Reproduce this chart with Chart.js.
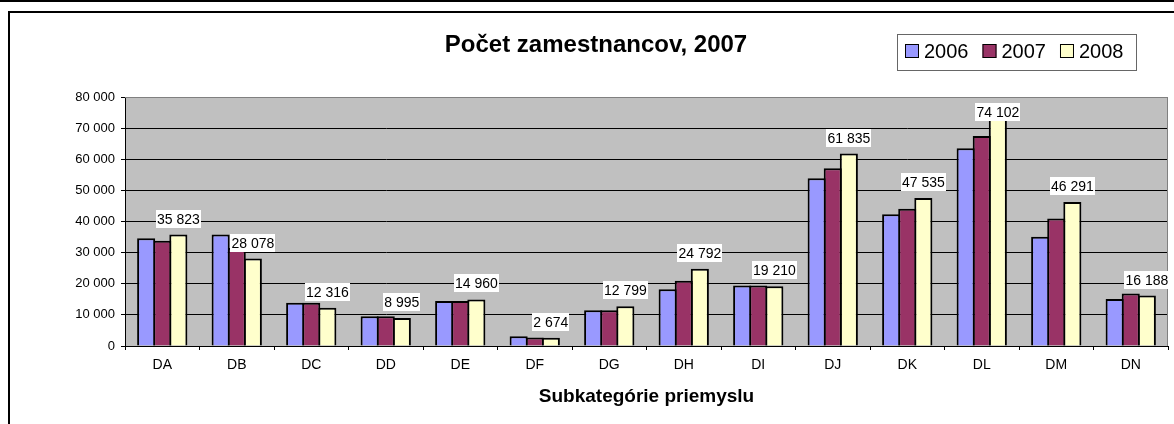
<!DOCTYPE html>
<html>
<head>
<meta charset="utf-8">
<title>Počet zamestnancov, 2007</title>
<script src="https://cdn.jsdelivr.net/npm/chart.js@4.4.1/dist/chart.umd.min.js"></script>
<style>
  html, body { margin: 0; padding: 0; background: #fff; }
  #wrap { position: relative; width: 1174px; height: 424px; overflow: hidden; }
  #topLine { position: absolute; left: 0; top: 0; width: 1174px; height: 2px; background: #000; }
  #frame { position: absolute; left: 8px; top: 11px; width: 1200px; height: 500px; border-left: 2px solid #000; border-top: 2px solid #000; }
  #chartBox { position: absolute; left: 0; top: 0; width: 1174px; height: 424px; }
</style>
</head>
<body>
<div id="wrap">
  <div id="topLine"></div>
  <div id="frame"></div>
  <div id="chartBox"><canvas id="myChart"></canvas></div>
</div>
<script>
// data (2008 values are the printed labels)
const categories = ['DA', 'DB', 'DC', 'DD', 'DE', 'DF', 'DG', 'DH', 'DI', 'DJ', 'DK', 'DL', 'DM', 'DN'];
const years = ['2006', '2007', '2008'];
const values2006 = [34600, 35800, 13900, 9550, 14450, 3100, 11450, 18200, 19400, 53900, 42300, 63500, 35100, 15100];
const values2007 = [33850, 31500, 13900, 9550, 14450, 2750, 11450, 21000, 19400, 57100, 44100, 67500, 41000, 16900];
const values2008 = [35823, 28078, 12316, 8995, 14960, 2674, 12799, 24792, 19210, 61835, 47535, 74102, 46291, 16188];
const yTicks = [0, 10000, 20000, 30000, 40000, 50000, 60000, 70000, 80000];

const colors = ['#9999FF', '#993366', '#FFFFCC'];
const FONT = '"Liberation Sans", Arial, sans-serif';

const fmt = v => String(v).replace(/\B(?=(\d{3})+(?!\d))/g, ' ');

const Chart1 = document.getElementById('myChart');

// grey plot area, value labels, title and framed legend
const decor = {
  id: 'decor',
  beforeDraw(chart) {
    const {ctx, chartArea: a} = chart;
    ctx.save();
    ctx.fillStyle = '#C0C0C0';
    ctx.fillRect(a.left, a.top, a.right - a.left, a.bottom - a.top);
    ctx.restore();
  },
  afterDatasetsDraw(chart) {
    const {ctx, chartArea: a} = chart;
    ctx.save();
    // plot border right side
    ctx.strokeStyle = '#808080';
    ctx.lineWidth = 1;
    ctx.beginPath();
    ctx.moveTo(a.left, a.top + 0.5);
    ctx.lineTo(a.right - 0.5, a.top + 0.5);
    ctx.lineTo(a.right - 0.5, a.bottom);
    ctx.stroke();

    // labels only for the last series
    const meta = chart.getDatasetMeta(2);
    ctx.font = '14px ' + FONT;
    ctx.textAlign = 'center';
    ctx.textBaseline = 'middle';
    meta.data.forEach((bar, i) => {
      const txt = fmt(chart.data.datasets[2].data[i]);
      const w = ctx.measureText(txt).width + 2;
      const h = 18;
      let top = bar.y - 7 - h;
      if (top < a.top + 6) top = a.top + 6;
      ctx.fillStyle = '#fff';
      ctx.fillRect(Math.round(bar.x - w / 2), Math.round(top), Math.round(w), h);
      ctx.fillStyle = '#000';
      ctx.fillText(txt, bar.x, Math.round(top) + h / 2 + 1);
    });
    ctx.restore();
  },
  afterDraw(chart) {
    const ctx = chart.ctx;
    ctx.save();
    ctx.fillStyle = '#000';
    ctx.font = 'bold 24px ' + FONT;
    ctx.textAlign = 'center';
    ctx.textBaseline = 'alphabetic';
    ctx.fillText('Počet zamestnancov, 2007', 596, 52);

    // legend
    ctx.fillStyle = '#fff';
    ctx.fillRect(897, 34, 239, 36);
    ctx.strokeStyle = '#666';
    ctx.lineWidth = 1;
    ctx.strokeRect(897.5, 34.5, 239, 36);
    ctx.font = '20px ' + FONT;
    ctx.textAlign = 'left';
    let x = 905;
    chart.data.datasets.forEach(ds => {
      ctx.fillStyle = ds.backgroundColor;
      ctx.fillRect(x, 44, 14, 14);
      ctx.strokeStyle = '#000';
      ctx.strokeRect(x + 0.5, 44.5, 13, 13);
      ctx.fillStyle = '#000';
      ctx.fillText(ds.label, x + 19, 58);
      x += 19 + ctx.measureText(ds.label).width + 14;
    });
    ctx.restore();
  }
};

const data = {
  labels: categories,
  datasets: [
    { label: years[0], data: values2006, backgroundColor: colors[0] },
    { label: years[1], data: values2007, backgroundColor: colors[1] },
    { label: years[2], data: values2008, backgroundColor: colors[2] }
  ]
};

const config = {
  type: 'bar',
  data,
  options: {
    responsive: true,
    maintainAspectRatio: false,
    animation: false,
    devicePixelRatio: 1,
    layout: { padding: { top: 97, right: 6, bottom: 0, left: 0 } },
    datasets: {
      bar: {
        borderColor: '#000',
        borderWidth: 2,
        categoryPercentage: 0.648,
        barPercentage: 1.124
      }
    },
    plugins: {
      legend: { display: false },
      title: { display: false },
      tooltip: { enabled: false }
    },
    scales: {
      x: {
        offset: true,
        grid: { drawOnChartArea: false, drawTicks: true, tickLength: 4, color: '#000' },
        border: { color: '#000', width: 1 },
        ticks: { color: '#000', padding: 7, font: { family: FONT, size: 14 } },
        title: {
          display: true,
          text: 'Subkategórie priemyslu',
          color: '#000',
          font: { family: FONT, size: 19, weight: 'bold' },
          padding: { top: 0, bottom: 16 }
        },
        afterFit: s => { s.height = 78; }
      },
      y: {
        min: 0,
        max: 80000,
        afterBuildTicks: s => { s.ticks = yTicks.map(v => ({ value: v })); },
        grid: {
          color: c => (c.tick && c.tick.value === 80000 ? '#808080' : '#000'),
          tickColor: '#000',
          tickLength: 4
        },
        border: { color: '#000', width: 1 },
        ticks: {
          color: '#000',
          padding: 6,
          font: { family: FONT, size: 13 },
          callback: v => fmt(v)
        },
        afterFit: s => { s.width = 125; }
      }
    }
  },
  plugins: [decor]
};

let myChart = new Chart(Chart1, config);
</script>
</body>
</html>
